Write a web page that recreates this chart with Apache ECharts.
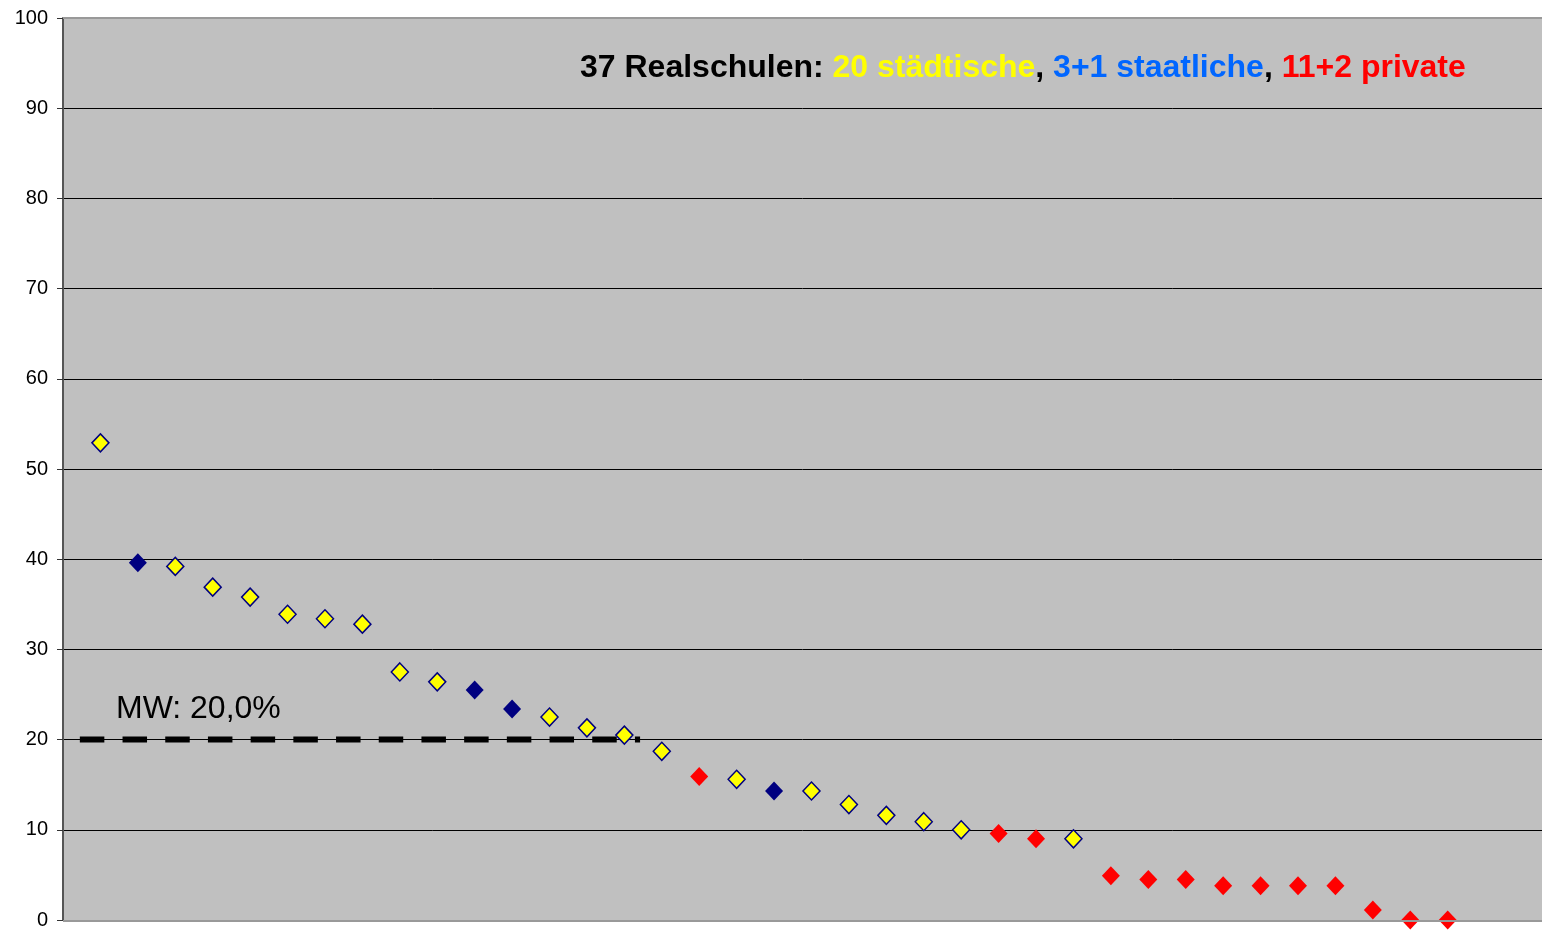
<!DOCTYPE html>
<html><head><meta charset="utf-8">
<script src="https://cdn.jsdelivr.net/npm/echarts@6/dist/echarts.min.js"></script>
<style>html,body{margin:0;padding:0;background:#fff}#c{width:1542px;height:930px}</style>
</head><body><div id="c"></div>
<script>
// school index 1..37 and quota values (%)
const values = [52.9, 39.6, 39.2, 36.9, 35.8, 33.9, 33.4, 32.8, 27.5, 26.4,
                25.5, 23.4, 22.5, 21.3, 20.5, 18.7, 15.9, 15.6, 14.3, 14.3,
                12.8, 11.6, 10.9, 10.0, 9.6, 9.0, 9.0, 4.9, 4.5, 4.5,
                3.8, 3.8, 3.8, 3.8, 1.1, 0.0, 0.0];
// type of each school: s = städtisch, t = staatlich, p = privat
const types = ['s','t','s','s','s','s','s','s','s','s',
               't','t','s','s','s','s','p','s','t','s',
               's','s','s','s','p','p','s','p','p','p',
               'p','p','p','p','p','p','p'];
const yTicks = [0,10,20,30,40,50,60,70,80,90,100];
const meanValue = 20.0;
const meanLabel = 'MW: 20,0%';
const meanFrom = 0.45, meanTo = 15.42;
const titleParts = [
  ['37 Realschulen: ', 'k'], ['20 städtische', 'y'], [', ', 'k'],
  ['3+1 staatliche', 'b'], [', ', 'k'], ['11+2 private', 'r']
];

function pts(t){ const r=[]; values.forEach((v,i)=>{ if(types[i]===t) r.push([i+1,v]); }); return r; }

const chart = echarts.init(document.getElementById('c'));
const F = '"Liberation Sans", Arial, sans-serif';
chart.setOption({
  animation:false,
  backgroundColor:'#fff',
  grid:{left:63, top:18, right:0, bottom:9, show:true, backgroundColor:'#c0c0c0', borderWidth:0},
  xAxis:{type:'value', min:0, max:39.52, show:false},
  yAxis:{type:'value', min:yTicks[0], max:yTicks[yTicks.length-1], interval:10,
    axisLine:{show:true, lineStyle:{color:'#555', width:2}},
    axisTick:{show:true, length:6, lineStyle:{color:'#333'}},
    axisLabel:{fontFamily:F, fontSize:20, color:'#000', margin:15},
    splitLine:{show:true, lineStyle:{color:'#000', width:1}}
  },
  graphic:[
    {type:'rect', shape:{x:63,y:17,width:1479,height:2}, style:{fill:'#999'}, z:10},
    {type:'rect', shape:{x:63,y:920,width:1479,height:2}, style:{fill:'#999'}, z:10},
    {type:'text', x:580, y:68, z:20, style:{
      text: titleParts.map(p=>'{'+p[1]+'|'+p[0]+'}').join(''),
      verticalAlign:'middle',
      rich:{
        k:{fill:'#000', font:'bold 32px '+F},
        y:{fill:'#ffff00', font:'bold 32px '+F},
        b:{fill:'#0066ff', font:'bold 32px '+F},
        r:{fill:'#ff0000', font:'bold 32px '+F}
      }}},
    {type:'text', x:116, y:709, z:20, style:{text:meanLabel, font:'32px '+F, fill:'#000', verticalAlign:'middle'}}
  ],
  series:[
    {type:'line', data:[[meanFrom,meanValue],[meanTo,meanValue]], symbol:'none', z:3,
      lineStyle:{color:'#000', width:6, type:[24.5,18.2]}},
    {type:'scatter', data:pts('s'), symbol:'diamond', symbolSize:[17,18], z:5,
      itemStyle:{color:'#ffff00', borderColor:'#000080', borderWidth:1.5, opacity:1}},
    {type:'scatter', data:pts('t'), symbol:'diamond', symbolSize:[18,19], z:5,
      itemStyle:{color:'#000080', opacity:1}},
    {type:'scatter', data:pts('p'), symbol:'diamond', symbolSize:[18,19], z:5,
      itemStyle:{color:'#ff0000', opacity:1}}
  ]
});
</script></body></html>
